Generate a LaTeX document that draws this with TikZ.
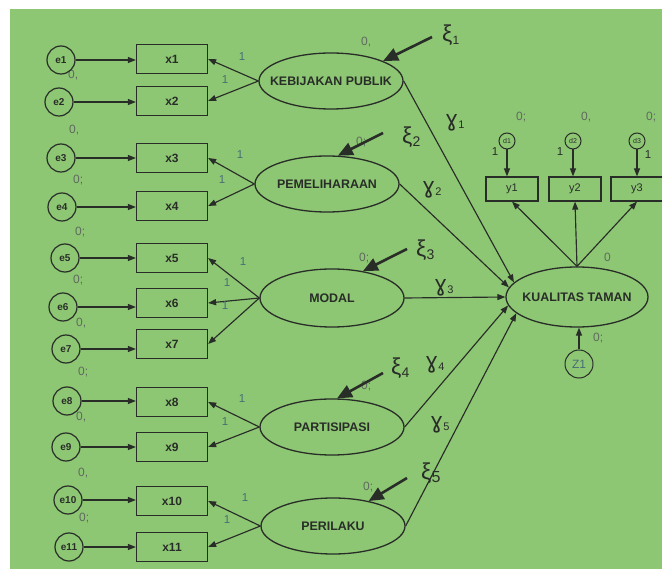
\documentclass[tikz,border=0pt]{standalone}
\usepackage{fontspec}
\setmainfont{Liberation Sans}
\newfontfamily\djfont{DejaVu Sans}
\usetikzlibrary{arrows.meta,shapes.geometric}
\definecolor{bg}{RGB}{142,199,116}
\definecolor{ink}{RGB}{40,45,40}
\definecolor{lblue}{RGB}{70,110,118}
\definecolor{lgray}{RGB}{95,105,95}
\begin{document}
\begin{tikzpicture}[x=1pt,y=-1pt,
  err/.style={circle,draw=ink,line width=1.2pt,minimum size=28pt,inner sep=0pt,font=\fontsize{10}{10}\selectfont\bfseries,text=ink},
  dist/.style={circle,draw=ink,line width=1pt,minimum size=16pt,inner sep=0pt,font=\fontsize{7}{7}\selectfont,text=ink},
  obs/.style={rectangle,draw=ink,line width=1.2pt,minimum width=71pt,minimum height=29pt,inner sep=0pt,font=\fontsize{12}{12}\selectfont\bfseries,text=ink},
  endo/.style={rectangle,draw=ink,line width=1.2pt,minimum width=52pt,minimum height=24pt,inner sep=0pt,font=\fontsize{11}{11}\selectfont,text=ink},
  lat/.style={ellipse,draw=ink,line width=1.3pt,minimum width=144pt,minimum height=56pt,inner sep=0pt},
  lattxt/.style={font=\fontsize{12.4}{12.4}\selectfont\bfseries,text=ink},
  conn/.style={draw=ink,line width=1.15pt,-{Triangle[length=8pt,width=6pt]}},
  bigarr/.style={draw=ink,line width=2.6pt,-{Triangle[length=15pt,width=13pt]}},
  one/.style={font=\fontsize{11.5}{11.5}\selectfont,text=lblue},
  zero/.style={font=\fontsize{12}{12}\selectfont,text=lgray},
  gam/.style={font=\fontsize{22}{22}\selectfont\djfont,text=ink,inner sep=0pt,anchor=west},
  xil/.style={font=\fontsize{23}{23}\selectfont,text=ink,inner sep=0pt,anchor=west}
]
\useasboundingbox (0,0) rectangle (662,569);
\fill[white] (0,0) rectangle (662,569);
\fill[bg] (10,9) rectangle (662,569);

% zero labels (drawn first so arrowheads overlay them)
\foreach \x/\y/\t in {72/75/{0,}, 73/130/{0,}, 77/180/{0;}, 79/232/{0;}, 77/280/{0;}, 80/323/{0,}, 82/372/{0;}, 80/417/{0,}, 82/473/{0,}, 83/518/{0;},
  365/42/{0,}, 360/142/{0;}, 363/258/{0;}, 365/386/{0;}, 367/487/{0;},
  520/117/{0;}, 585/117/{0,}, 650/117/{0;}, 608/257/{0}, 597/338/{0;}}
  \node[zero,anchor=west,inner sep=0pt] (z\x-\y) at (\x-4,\y) {\t};

% errors and indicators
\foreach \i/\ex/\ey/\by in {1/61/60/59, 2/59/102/101, 3/61/158/158, 4/62/207/206, 5/65/258/258, 6/63/307/303, 7/66/349/344, 8/67/401/402, 9/66/447/447, 10/68/500/501, 11/69/547/547} {
  \node[err] (e\i) at (\ex,\ey) {e\i};
  \node[obs] (x\i) at (172,\by) {x\i};
  \draw[conn] (e\i) -- (e\i -| x\i.west);
}

% latent variables
\node[lat] (kp) at (331,81) {};
\node[lattxt] at (kp) {KEBIJAKAN PUBLIK};
\node[lat] (pm) at (327,184) {};
\node[lattxt] at (pm) {PEMELIHARAAN};
\node[lat,minimum height=58pt] (md) at (332,298) {};
\node[lattxt] at (md) {MODAL};
\node[lat] (pa) at (332,427) {};
\node[lattxt] at (pa) {PARTISIPASI};
\node[lat] (pe) at (333,526) {};
\node[lattxt] at (pe) {PERILAKU};
\node[lat,minimum width=142pt,minimum height=60pt] (kt) at (577,297) {};
\node[lattxt] at (kt) {KUALITAS TAMAN};

% loadings
\draw[conn] (kp.west) -- (x1.east);
\draw[conn] (kp.west) -- (x2.east);
\draw[conn] (pm.west) -- (x3.east);
\draw[conn] (pm.west) -- (x4.east);
\draw[conn] (md.west) -- (x5.east);
\draw[conn] (md.west) -- (x6.east);
\draw[conn] (md.west) -- (x7.east);
\draw[conn] (pa.west) -- (x8.east);
\draw[conn] (pa.west) -- (x9.east);
\draw[conn] (pe.west) -- (x10.east);
\draw[conn] (pe.west) -- (x11.east);

\foreach \x/\y [count=\k] in {242/57, 225/80, 240/155, 222/180, 243/262, 227/283, 225/306, 242/399, 225/422, 245/498, 227/520}
  \node[one] (one\k) at (\x,\y) {1};

% structural paths
\draw[conn] (kp.east) -- (kt.167);
\draw[conn] (pm.east) -- (kt.172);
\draw[conn] (md.east) -- (kt.180);
\draw[conn] (pa.east) -- (kt.187);
\draw[conn] (pe.east) -- (kt.195);

% endogenous indicators
\node[endo] (y1) at (512,189) {y1};
\node[endo] (y2) at (575,189) {y2};
\node[endo] (y3) at (637,189) {y3};
\node[dist] (d1) at (507,141) {d1};
\node[dist] (d2) at (573,141) {d2};
\node[dist] (d3) at (637,141) {d3};
\draw[conn] (d1) -- (d1 |- y1.north);
\draw[conn] (d2) -- (d2 |- y2.north);
\draw[conn] (d3) -- (d3 |- y3.north);
\node[one,text=ink] (oy1) at (495,152) {1};
\node[one,text=ink] (oy2) at (560,152) {1};
\node[one,text=ink] (oy3) at (648,155) {1};
\draw[conn] (kt.north) -- (y1.south);
\draw[conn] (kt.north) -- (y2.south);
\draw[conn] (kt.north) -- (y3.south);

% disturbance
\node[dist,minimum size=28pt,font=\fontsize{12}{12}\selectfont,text=lblue] (z1) at (579,364) {Z1};
\draw[conn] (z1) -- (z1 |- kt.south);

% gamma labels
\node[gam] (g1) at (445,123) {ɣ\raisebox{-2pt}{\fontsize{11}{11}\selectfont\rmfamily 1}};
\node[gam] (g2) at (422,190) {ɣ\raisebox{-2pt}{\fontsize{11}{11}\selectfont\rmfamily 2}};
\node[gam] (g3) at (434,288) {ɣ\raisebox{-2pt}{\fontsize{11}{11}\selectfont\rmfamily 3}};
\node[gam] (g4) at (425,365) {ɣ\raisebox{-2pt}{\fontsize{11}{11}\selectfont\rmfamily 4}};
\node[gam] (g5) at (430,425) {ɣ\raisebox{-2pt}{\fontsize{11}{11}\selectfont\rmfamily 5}};

% xi labels and arrows
\node[xil] (xi1) at (442,35) {ξ\raisebox{-3pt}{\fontsize{12}{12}\selectfont 1}};
\node[xil] (xi2) at (402,137) {ξ\raisebox{-3pt}{\fontsize{14}{14}\selectfont 2}};
\node[xil] (xi3) at (416,250) {ξ\raisebox{-3pt}{\fontsize{14}{14}\selectfont 3}};
\node[xil] (xi4) at (391,368) {ξ\raisebox{-3pt}{\fontsize{14}{14}\selectfont 4}};
\node[xil] (xi5) at (421,473) {ξ\raisebox{-3pt}{\fontsize{16}{16}\selectfont 5}};
\coordinate (t1) at (432,37);
\coordinate (t2) at (383,133);
\coordinate (t3) at (407,249);
\coordinate (t4) at (383,373);
\coordinate (t5) at (407,478);
\draw[bigarr] (t1) -- (kp.21);
\draw[bigarr] (t2) -- (pm.69);
\draw[bigarr] (t3) -- (md.41);
\draw[bigarr] (t4) -- (pa.80);
\draw[bigarr] (t5) -- (pe.35);
\end{tikzpicture}
\end{document}
